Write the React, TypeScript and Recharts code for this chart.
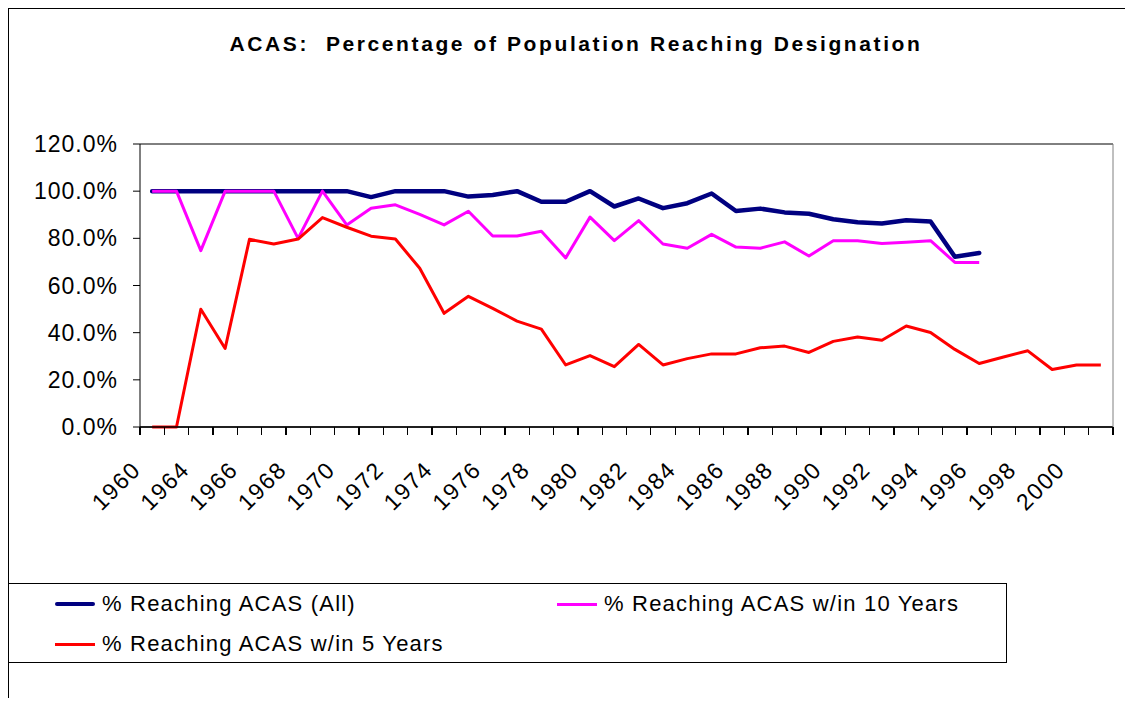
import React from 'react';
import { LineChart, Line, XAxis, YAxis, CartesianGrid, ReferenceLine } from 'recharts';

// category labels (every other one is shown on the axis)
const years = [
  '1960', '1962', '1964', '1965', '1966', '1967', '1968', '1969', '1970', '1971',
  '1972', '1973', '1974', '1975', '1976', '1977', '1978', '1979', '1980', '1981',
  '1982', '1983', '1984', '1985', '1986', '1987', '1988', '1989', '1990', '1991',
  '1992', '1993', '1994', '1995', '1996', '1997', '1998', '1999', '2000', '2001',
];

const reachingAll = [
  100, 100, 100, 100, 100, 100, 100, 100, 100, 97.5,
  100, 100, 100, 97.7, 98.4, 100, 95.5, 95.5, 100, 93.5,
  96.9, 92.8, 94.9, 99.0, 91.6, 92.6, 91.0, 90.4, 88.1, 86.8,
  86.3, 87.7, 87.1, 72.2, 73.8, null, null, null, null, null,
];

const within10 = [
  100, 100, 74.8, 100, 100, 100, 80, 100, 85.7, 92.8,
  94.2, 90.2, 85.7, 91.5, 81.0, 81.0, 83.0, 71.7, 89.0, 79.0,
  87.5, 77.6, 75.8, 81.7, 76.3, 75.8, 78.5, 72.5, 79.0, 79.0,
  77.8, 78.3, 79.0, 69.8, 69.8, null, null, null, null, null,
];

const within5 = [
  0, 0, 49.9, 33.3, 79.6, 77.6, 79.7, 88.8, 84.7, 80.9,
  79.7, 67.3, 48.2, 55.4, 50.3, 44.9, 41.5, 26.3, 30.3, 25.6,
  35.0, 26.3, 29.0, 31.0, 31.0, 33.6, 34.3, 31.6, 36.3, 38.2,
  36.8, 42.8, 40.1, 32.9, 26.9, 29.7, 32.3, 24.4, 26.3, 26.3,
];

const yTicks = [0, 20, 40, 60, 80, 100, 120];
// tick marks sit on the borders between categories
const borderTicks = years.map((_, i) => i).concat(years.length);

const seriesInfo = [
  { key: 'all', name: '% Reaching ACAS (All)', color: '#000080', width: 4.5 },
  { key: 'ten', name: '% Reaching ACAS w/in 10 Years', color: '#FF00FF', width: 3 },
  { key: 'five', name: '% Reaching ACAS w/in 5 Years', color: '#FF0000', width: 3 },
];

// pos = middle of the category slot
const data = years.map((year, i) => ({
  year,
  pos: i + 0.5,
  all: reachingAll[i],
  ten: within10[i],
  five: within5[i],
}));

const font = '"Liberation Sans", Arial, sans-serif';

// tick mark at every slot border, label every other category centred in its slot
const YearTick = (props: any) => {
  const { x, y, payload, width } = props;
  const v = payload.value;
  const axisY = y - 7;
  const mark = (
    <line x1={x} x2={x} y1={axisY} y2={axisY + 8} stroke="#000" strokeWidth={1.3} shapeRendering="crispEdges" />
  );
  if (v % 2 !== 0 || v >= years.length) return <g>{mark}</g>;
  const half = width / years.length / 2;
  const ax = x + half - 10;
  const ay = axisY + 44;
  return (
    <g>
      {mark}
      <text
        x={ax}
        y={ay}
        transform={`rotate(-45 ${ax} ${ay})`}
        textAnchor="end"
        fontSize={23}
        fontFamily={font}
        letterSpacing={1.6}
        fill="#000"
      >
        {years[v]}
      </text>
    </g>
  );
};

const LegendRow = ({ item, left, top }: any) => (
  <div style={{ position: 'absolute', left, top, display: 'flex', alignItems: 'center', height: 24 }}>
    <div
      style={{
        width: 40,
        height: item.key === 'all' ? 4.5 : 3,
        background: item.color,
        borderRadius: item.key === 'all' ? 3 : 0,
        marginRight: 7,
      }}
    />
    <span style={{ fontSize: 22, letterSpacing: 1.2, whiteSpace: 'pre', lineHeight: '24px' }}>{item.name}</span>
  </div>
);

export default function App() {
  return (
    <div
      style={{
        position: 'relative',
        width: 1125,
        height: 690,
        boxSizing: 'border-box',
        borderLeft: '1px solid #000',
        borderTop: '1px solid #000',
        background: '#fff',
        fontFamily: font,
      }}
    >
      <div
        style={{
          position: 'absolute',
          left: 567,
          top: 23,
          transform: 'translateX(-50%)',
          fontSize: 21,
          fontWeight: 'bold',
          letterSpacing: 2.6,
          whiteSpace: 'pre',
          lineHeight: '24px',
        }}
      >
        {'ACAS:  Percentage of Population Reaching Designation'}
      </div>

      <LineChart
        width={1124}
        height={689}
        data={data}
        margin={{ top: 135, right: 19, bottom: 231, left: 0 }}
      >
        <CartesianGrid horizontal vertical={false} stroke="#000" strokeWidth={1} />
        <ReferenceLine yAxisId="left" y={120} stroke="#808080" strokeWidth={1} />
        <XAxis
          dataKey="pos"
          type="number"
          domain={[0, years.length]}
          ticks={borderTicks}
          interval={0}
          height={40}
          tickSize={7}
          tickMargin={0}
          axisLine={{ stroke: '#000', strokeWidth: 1.3 }}
          tickLine={false}
          tick={<YearTick />}
        />
        <YAxis
          yAxisId="left"
          width={131}
          domain={[0, 120]}
          ticks={yTicks}
          tickSize={7}
          tickMargin={15}
          axisLine={{ stroke: '#000' }}
          tickLine={{ stroke: '#000' }}
          tickFormatter={(v: number) => `${v.toFixed(1)}%`}
          tick={{ fontSize: 23, fontFamily: font, fill: '#000', letterSpacing: 1 }}
        />
        <YAxis
          yAxisId="right"
          orientation="right"
          width={1}
          domain={[0, 120]}
          tick={false}
          tickLine={false}
          axisLine={{ stroke: '#808080' }}
        />
        {seriesInfo.map((s) => (
          <Line
            key={s.key}
            yAxisId="left"
            dataKey={s.key}
            name={s.name}
            stroke={s.color}
            strokeWidth={s.width}
            strokeLinecap={s.key === 'all' ? 'round' : 'butt'}
            strokeLinejoin="round"
            dot={false}
            activeDot={false}
            isAnimationActive={false}
          />
        ))}
      </LineChart>

      <div
        style={{
          position: 'absolute',
          left: -1,
          top: 574,
          width: 999,
          height: 80,
          boxSizing: 'border-box',
          border: '1px solid #000',
        }}
      >
        <LegendRow item={seriesInfo[0]} left={46} top={8} />
        <LegendRow item={seriesInfo[1]} left={548} top={8} />
        <LegendRow item={seriesInfo[2]} left={46} top={48} />
      </div>
    </div>
  );
}
